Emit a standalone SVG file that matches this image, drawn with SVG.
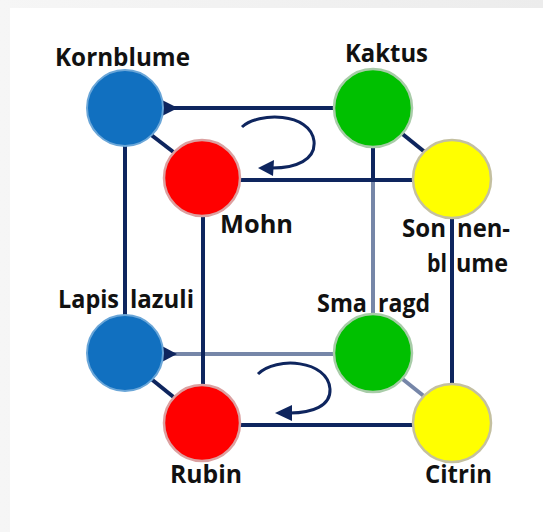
<svg xmlns="http://www.w3.org/2000/svg" width="543" height="532" viewBox="0 0 543 532">
<defs>
<style>
.dk{stroke:#0e255e;stroke-width:4;fill:none}
.lt{stroke:#7686a8;stroke-width:4;fill:none}
.arc{stroke:#0e255e;stroke-width:3;fill:none}
.ah{fill:#0e255e}
.lbl{font-family:"Open Sans","Liberation Sans",sans-serif;font-weight:bold;font-size:24.5px;fill:#111}
.blue{fill:#1170c0;stroke:#6aa6d8;stroke-width:2}
.red{fill:#ff0000;stroke:#dca0a0;stroke-width:2.5}
.green{fill:#00c000;stroke:#a8cca8;stroke-width:2.5}
.yellow{fill:#ffff00;stroke:#c4c0a0;stroke-width:2.5}
</style>
<linearGradient id="shL" x1="0" y1="0" x2="1" y2="0"><stop offset="0" stop-color="#f6f6f6"/><stop offset="1" stop-color="#ececec"/></linearGradient>
</defs>
<rect x="0" y="0" width="543" height="532" fill="url(#shL)"/>
<rect x="10" y="8" width="533" height="524" fill="#ffffff"/>
<g id="connectors">
<line class="lt" x1="373" y1="147" x2="373" y2="315"/>
<line class="dk" x1="373" y1="147" x2="373" y2="182"/>
<line class="lt" x1="163" y1="354" x2="334" y2="354"/>
<line class="lt" x1="400" y1="377" x2="425" y2="397"/>
<line class="dk" x1="125" y1="108" x2="334" y2="108"/>
<line class="dk" x1="125" y1="146" x2="125" y2="316"/>
<line class="dk" x1="240" y1="180" x2="413" y2="180"/>
<line class="dk" x1="203" y1="216" x2="203" y2="385"/>
<line class="dk" x1="452" y1="218" x2="452" y2="385"/>
<line class="dk" x1="240" y1="425" x2="413" y2="425"/>
<line class="dk" x1="150" y1="134" x2="176" y2="154"/>
<line class="dk" x1="400" y1="132" x2="426" y2="153"/>
<line class="dk" x1="150" y1="378" x2="176" y2="399"/>
<polygon class="ah" points="160,99 178,108 160,117"/>
<polygon class="ah" points="160,345 177,354 160,363"/>
<path class="arc" d="M242,127 C258,112 310,112 314,141 C316,160 296,168 272,168"/>
<polygon class="ah" points="258,168 274,160 273,176"/>
<path class="arc" d="M258,374 C276,356 328,360 330,389 C331,406 312,413 290,413"/>
<polygon class="ah" points="275,413 292,405 292,421"/>
</g>
<g id="kornblume"><circle class="blue" cx="125" cy="108" r="38"/><text class="lbl" x="55" y="66" textLength="135" lengthAdjust="spacingAndGlyphs">Kornblume</text></g>
<g id="mohn"><circle class="red" cx="202" cy="178" r="38"/><text class="lbl" x="220" y="233" textLength="73" lengthAdjust="spacingAndGlyphs">Mohn</text></g>
<g id="kaktus"><circle class="green" cx="373" cy="108" r="39"/><text class="lbl" x="345" y="62" textLength="83" lengthAdjust="spacingAndGlyphs">Kaktus</text></g>
<g id="sonnenblume"><circle class="yellow" cx="452" cy="179" r="39"/><text class="lbl" y="237"><tspan x="402" textLength="44" lengthAdjust="spacingAndGlyphs">Son</tspan> <tspan x="457" textLength="53" lengthAdjust="spacingAndGlyphs">nen-</tspan></text><text class="lbl" y="272"><tspan x="427" textLength="20" lengthAdjust="spacingAndGlyphs">bl</tspan> <tspan x="456" textLength="52" lengthAdjust="spacingAndGlyphs">ume</tspan></text></g>
<g id="lapislazuli"><circle class="blue" cx="125" cy="353" r="38"/><text class="lbl" y="308"><tspan x="58" textLength="61" lengthAdjust="spacingAndGlyphs">Lapis</tspan> <tspan x="130" textLength="64" lengthAdjust="spacingAndGlyphs">lazuli</tspan></text></g>
<g id="smaragd"><circle class="green" cx="373" cy="353" r="39"/><text class="lbl" y="312"><tspan x="317" textLength="50" lengthAdjust="spacingAndGlyphs">Sma</tspan> <tspan x="378" textLength="52" lengthAdjust="spacingAndGlyphs">ragd</tspan></text></g>
<g id="rubin"><circle class="red" cx="202" cy="423" r="38"/><text class="lbl" x="170" y="483" textLength="72" lengthAdjust="spacingAndGlyphs">Rubin</text></g>
<g id="citrin"><circle class="yellow" cx="452" cy="423" r="39"/><text class="lbl" x="425" y="483" textLength="67" lengthAdjust="spacingAndGlyphs">Citrin</text></g>
</svg>
